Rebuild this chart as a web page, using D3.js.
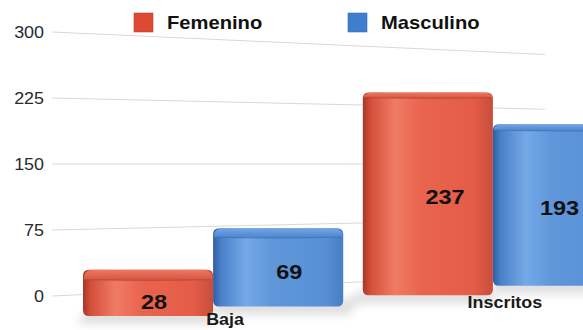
<!DOCTYPE html>
<html><head><meta charset="utf-8">
<script src="https://cdn.jsdelivr.net/npm/d3@7"></script>
<style>html,body{margin:0;padding:0;background:#fff;}svg{display:block;}</style>
</head><body>
<script>
// ---- data ----
const categories = ["Baja", "Inscritos"];
const seriesNames = ["Femenino", "Masculino"];
const femenino = [28, 237];
const masculino = [69, 193];
const tickValues = [0, 75, 150, 225, 300];

// ---- setup ----
const W = 583, H = 330, SX = 1.12;
const FONT = "'Liberation Sans', Arial, Helvetica, sans-serif";
const svg = d3.select("body").append("svg").attr("width", W).attr("height", H)
  .style("font-family", FONT);
const defs = svg.append("defs");

const colors = {
  Femenino: {front: ["#a63826", "#d44f3a", "#f07b64", "#e9644e", "#e45c47", "#c74e3b"],
             top: ["#ec7a64", "#d6533e"], legend: "#dc4a34", edge: "#b84330"},
  Masculino: {front: ["#2e5ea2", "#4a80c8", "#74a9e7", "#5f97da", "#5890d6", "#4a7ec4"],
              top: ["#72a7e6", "#4d84cc"], legend: "#3f7ecf", edge: "#3d6fb2"}
};
seriesNames.forEach(s => {
  const c = colors[s];
  const g = defs.append("linearGradient").attr("id", "front-" + s).attr("x1", 0).attr("x2", 1).attr("y1", 0).attr("y2", 0);
  [0, 0.06, 0.25, 0.45, 0.85, 1].forEach((o, i) => g.append("stop").attr("offset", o).attr("stop-color", c.front[i]));
  const t = defs.append("linearGradient").attr("id", "top-" + s).attr("x1", 0).attr("x2", 0).attr("y1", 0).attr("y2", 1);
  t.append("stop").attr("offset", 0).attr("stop-color", c.top[0]);
  t.append("stop").attr("offset", 1).attr("stop-color", c.top[1]);
});
defs.append("filter").attr("id", "blur").attr("x", "-20%").attr("y", "-50%").attr("width", "140%").attr("height", "200%")
  .append("feGaussianBlur").attr("stdDeviation", 5);

// ---- back wall (gridlines) with perspective ----
const y0 = d3.scaleLinear().domain([0, 300]).range([296, 32]);
const vanishY = 164, gridX0 = 52, gridX1 = 545, vanishDist = 2900;
const proj = (v, x) => vanishY + (y0(v) - vanishY) * (1 - (x - gridX0) / vanishDist);

svg.append("g").selectAll("line").data(tickValues).join("line")
  .attr("x1", gridX0).attr("x2", gridX1)
  .attr("y1", d => proj(d, gridX0)).attr("y2", d => proj(d, gridX1))
  .attr("stroke", "#d9d9d9").attr("stroke-width", 1);

svg.append("g").selectAll("text").data(tickValues).join("text")
  .attr("transform", d => `translate(44,${y0(d) + 5.5}) scale(${SX},1)`)
  .attr("text-anchor", "end").attr("font-size", 16).attr("fill", "#2a2a2a")
  .text(d => d);

// ---- bars (front plane) ----
const x = d3.scaleBand().domain(categories).range([83, 623]).paddingInner(0.07);
const xs = d3.scaleBand().domain(seriesNames).range([0, x.bandwidth()]);
const baseline = d3.scaleLinear().domain([149, 540]).range([316, 287]);
const pxPerUnit = d3.scaleLinear().domain([149, 540]).range([0.87, 0.749]);
const baseH = 12;
const topThick = d3.scaleLinear().domain([93, 280]).range([5, 10]).clamp(true);

const bars = [];
categories.forEach((c, i) => {
  [femenino, masculino].forEach((arr, j) => {
    const s = seriesNames[j];
    const x0 = x(c) + xs(s), x1 = x0 + xs.bandwidth(), xc = (x0 + x1) / 2;
    const yb = baseline(xc);
    const yf = yb - (baseH + pxPerUnit(xc) * arr[i]);
    bars.push({cat: c, s, v: arr[i], x0, x1, xc, yb, yf, t: topThick(yf)});
  });
});

// soft floor shadow
const shadowPts = [];
bars.forEach(b => { shadowPts.push([b.x0 + 4, b.yb - 6]); shadowPts.push([b.x1, b.yb - 6]); });
bars.slice().reverse().forEach(b => { shadowPts.push([b.x1 + 6, b.yb + 8]); shadowPts.push([b.x0 - 6, b.yb + 8]); });
svg.append("path").attr("d", d3.line()(shadowPts) + "Z")
  .attr("fill", "#000").attr("opacity", 0.13).attr("filter", "url(#blur)");

const rr = 6;
const gBars = svg.append("g");
bars.forEach(b => {
  const g = gBars.append("g");
  const top = b.yf - b.t;
  // body
  g.append("path").attr("d",
    `M${b.x0},${top + rr} Q${b.x0},${top} ${b.x0 + rr},${top} L${b.x1 - rr},${top} Q${b.x1},${top} ${b.x1},${top + rr}
     L${b.x1},${b.yb - rr} Q${b.x1},${b.yb} ${b.x1 - rr},${b.yb} L${b.x0 + rr},${b.yb} Q${b.x0},${b.yb} ${b.x0},${b.yb - rr} Z`)
    .attr("fill", `url(#front-${b.s})`);
  // top face
  const ins = 3;
  g.append("path").attr("d",
    `M${b.x0 + 1},${b.yf} Q${b.x0},${top + 1} ${b.x0 + ins + rr},${top} L${b.x1 - ins - rr},${top} Q${b.x1},${top + 1} ${b.x1 - 1},${b.yf}
     Q${(b.x0 + b.x1) / 2},${b.yf + 1.5} ${b.x0 + 1},${b.yf} Z`)
    .attr("fill", `url(#top-${b.s})`);
  g.append("path").attr("d", `M${b.x0 + 2},${b.yf} Q${(b.x0 + b.x1) / 2},${b.yf + 1.5} ${b.x1 - 2},${b.yf}`)
    .attr("fill", "none").attr("stroke", colors[b.s].edge).attr("stroke-width", 1.2).attr("opacity", 0.6);
});

// value labels
bars.forEach(b => {
  const visX1 = Math.min(b.x1, W);
  const xv = (b.x0 + visX1) / 2;
  const lx = xv + 6 + (xv - 148) * 0.04;
  const ly = (b.yf + b.yb) / 2 + 7.5 + (b.v < 40 ? 4 : 0);
  svg.append("text").attr("transform", `translate(${lx},${ly}) scale(${SX},1)`)
    .attr("text-anchor", "middle").attr("font-size", 21).attr("font-weight", "bold").attr("fill", "#111")
    .text(b.v);
});

// category labels
categories.forEach(c => {
  const cx = x(c) + x.bandwidth() / 2 + 12;
  svg.append("text").attr("transform", `translate(${cx},${Math.min(baseline(cx) + 18, 325)}) scale(${SX},1)`)
    .attr("text-anchor", "middle").attr("font-size", 16).attr("font-weight", "bold").attr("fill", "#1a1a1a")
    .text(c);
});

// legend
const legendX = [134, 348];
seriesNames.forEach((s, i) => {
  const g = svg.append("g").attr("transform", `translate(${legendX[i]},13)`);
  g.append("rect").attr("width", 19).attr("height", 19).attr("fill", colors[s].legend)
    .attr("stroke", d3.color(colors[s].legend).darker(0.4)).attr("stroke-width", 0.6);
  g.append("text").attr("transform", `translate(33,16) scale(${SX},1)`)
    .attr("font-size", 18).attr("font-weight", "bold").attr("fill", "#111").text(s);
});
</script>
</body></html>
